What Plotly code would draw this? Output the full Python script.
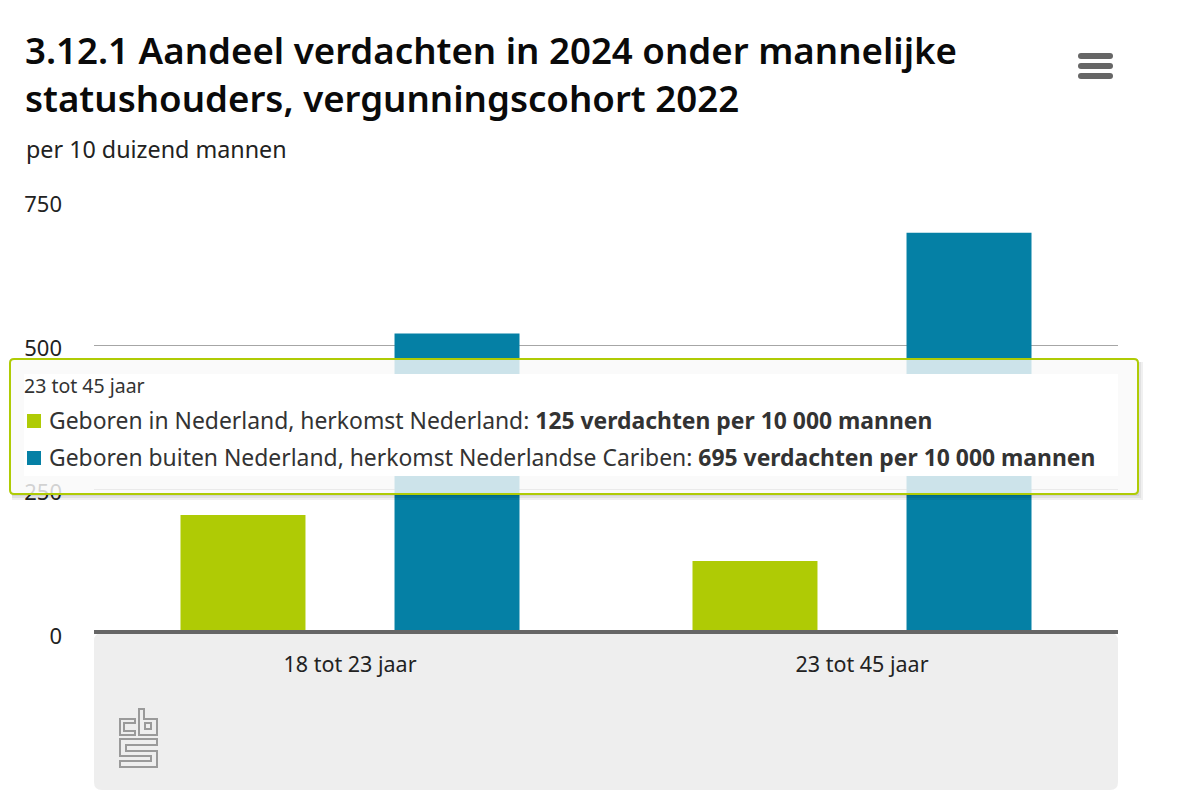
import plotly.graph_objects as go

# data
categories = ["18 tot 23 jaar", "23 tot 45 jaar"]
series_names = ["Geboren in Nederland, herkomst Nederland", "Geboren buiten Nederland, herkomst Nederlandse Cariben"]
nl_values = [205, 125]
car_values = [520, 695]
tick_vals = [0, 250, 500, 750]

GREEN = "#AFCB05"
BLUE = "#0580A5"
FONT = "Noto Sans"
# the page has a body margin of 8px, so the figure is 8px smaller than the window
W, H = 1192, 782
LEFT, RIGHT, TOP, BOTTOM = 94, 1118, 201, 633


# window pixels -> plot "paper" fractions
def px(x):
    return (x - LEFT) / (RIGHT - LEFT)


def py(y):
    return (BOTTOM - y) / (BOTTOM - TOP)


fig = go.Figure()
fig.add_bar(x=categories, y=nl_values, name=series_names[0], marker=dict(color=GREEN, line_width=0))
fig.add_bar(x=categories, y=car_values, name=series_names[1], marker=dict(color=BLUE, line_width=0))


def rounded(x0, y0, x1, y1, r):
    return (f"M{px(x0 + r)},{py(y0)} L{px(x1 - r)},{py(y0)} Q{px(x1)},{py(y0)} {px(x1)},{py(y0 + r)} "
            f"L{px(x1)},{py(y1 - r)} Q{px(x1)},{py(y1)} {px(x1 - r)},{py(y1)} L{px(x0 + r)},{py(y1)} "
            f"Q{px(x0)},{py(y1)} {px(x0)},{py(y1 - r)} L{px(x0)},{py(y0 + r)} Q{px(x0)},{py(y0)} {px(x0 + r)},{py(y0)} Z")


def poly(points):
    return "M" + " L".join(f"{px(a)},{py(b)}" for a, b in points) + " Z"


shapes = [
    # grey footer
    dict(type="path", path=rounded(94, 633, 1118, 790, 8), fillcolor="#EEEEEE", line_width=0, layer="below"),
    # baseline sits on top of the bars
    dict(type="line", x0=px(94), x1=px(1118), y0=py(632), y1=py(632), line=dict(color="#666666", width=4)),
]
# soft tooltip shadow, only the strips outside the box
for grow in [5, 3, 1]:
    shapes.append(dict(type="rect", x0=px(12), x1=px(1138 + grow), y0=py(494), y1=py(495 + grow),
                       fillcolor="rgba(0,0,0,0.06)", line_width=0))
    shapes.append(dict(type="rect", x0=px(1138), x1=px(1138 + grow), y0=py(362), y1=py(494),
                       fillcolor="rgba(0,0,0,0.06)", line_width=0))
shapes += [
    dict(type="path", path=rounded(10, 359, 1138, 494, 4), fillcolor="rgba(249,249,249,0.82)",
         line=dict(color=GREEN, width=2)),
    dict(type="rect", x0=px(24), x1=px(1118), y0=py(374), y1=py(476), fillcolor="white", line_width=0),
    dict(type="rect", x0=px(27), x1=px(41), y0=py(414), y1=py(428), fillcolor=GREEN, line_width=0),
    dict(type="rect", x0=px(27), x1=px(41), y0=py(451), y1=py(465), fillcolor=BLUE, line_width=0),
]
# menu icon
for y in [56, 66, 76]:
    shapes.append(dict(type="path", path=rounded(1078, y - 3, 1113, y + 3, 3), fillcolor="#666666", line_width=0))
# cbs logo
logo = [
    [(135, 719), (120, 719), (120, 735), (135, 735), (135, 731), (124, 731), (124, 723), (135, 723)],
    [(139, 709), (144, 709), (144, 719), (157, 719), (157, 735), (139, 735)],
    [(145, 723), (151, 723), (151, 729), (145, 729)],
    [(157, 739), (120, 739), (120, 756), (151, 756), (151, 761), (120, 761), (120, 767), (157, 767),
     (157, 751), (126, 751), (126, 745), (157, 745)],
]
for pts in logo:
    shapes.append(dict(type="path", path=poly(pts), line=dict(color="#9A9A9A", width=2), layer="below"))
for s in shapes:
    s.update(xref="paper", yref="paper")

ann = [
    dict(x=px(24), y=py(149), text="per 10 duizend mannen", font=dict(size=23.3, color="#222222")),
    dict(x=px(22), y=py(385), text="23 tot 45 jaar", font=dict(size=19.5, color="#333333")),
    dict(x=px(47), y=py(420), text=f"{series_names[0]}: <b>{nl_values[1]} verdachten per 10 000 mannen</b>",
         font=dict(size=22.9, color="#333333")),
    dict(x=px(47), y=py(457), text=f"{series_names[1]}: <b>{car_values[1]} verdachten per 10 000 mannen</b>",
         font=dict(size=22.9, color="#333333")),
]
for a in ann:
    a.update(xref="paper", yref="paper", xanchor="left", yanchor="middle", showarrow=False)

fig.update_layout(
    width=W, height=H,
    margin=dict(l=LEFT - 8, r=W + 8 - RIGHT, t=TOP - 8, b=H + 8 - BOTTOM, pad=0),
    showlegend=False,
    paper_bgcolor="white",
    plot_bgcolor="white",
    font=dict(family=FONT, size=21, color="#222222"),
    title=dict(text="3.12.1 Aandeel verdachten in 2024 onder mannelijke<br>statushouders, vergunningscohort 2022",
               x=(25 - 8) / W, xanchor="left", y=1 - (64 - 8) / H, yanchor="middle",
               font=dict(family=FONT, size=36.65, color="#0A0A0A", weight=600)),
    barmode="group", bargap=0.164, bargroupgap=0.416,
    shapes=shapes,
    annotations=ann,
    xaxis=dict(showline=False, ticks="", ticklabelstandoff=16, tickfont=dict(size=21.5)),
    yaxis=dict(range=[0, 750], tickvals=tick_vals, showgrid=True, gridcolor="#A6A6A6", gridwidth=1,
               zeroline=False, showline=False, ticks="",
               ticklabelstandoff=31, ticklabelshift=3, tickfont=dict(size=22)),
)

fig.write_html("out.html")
